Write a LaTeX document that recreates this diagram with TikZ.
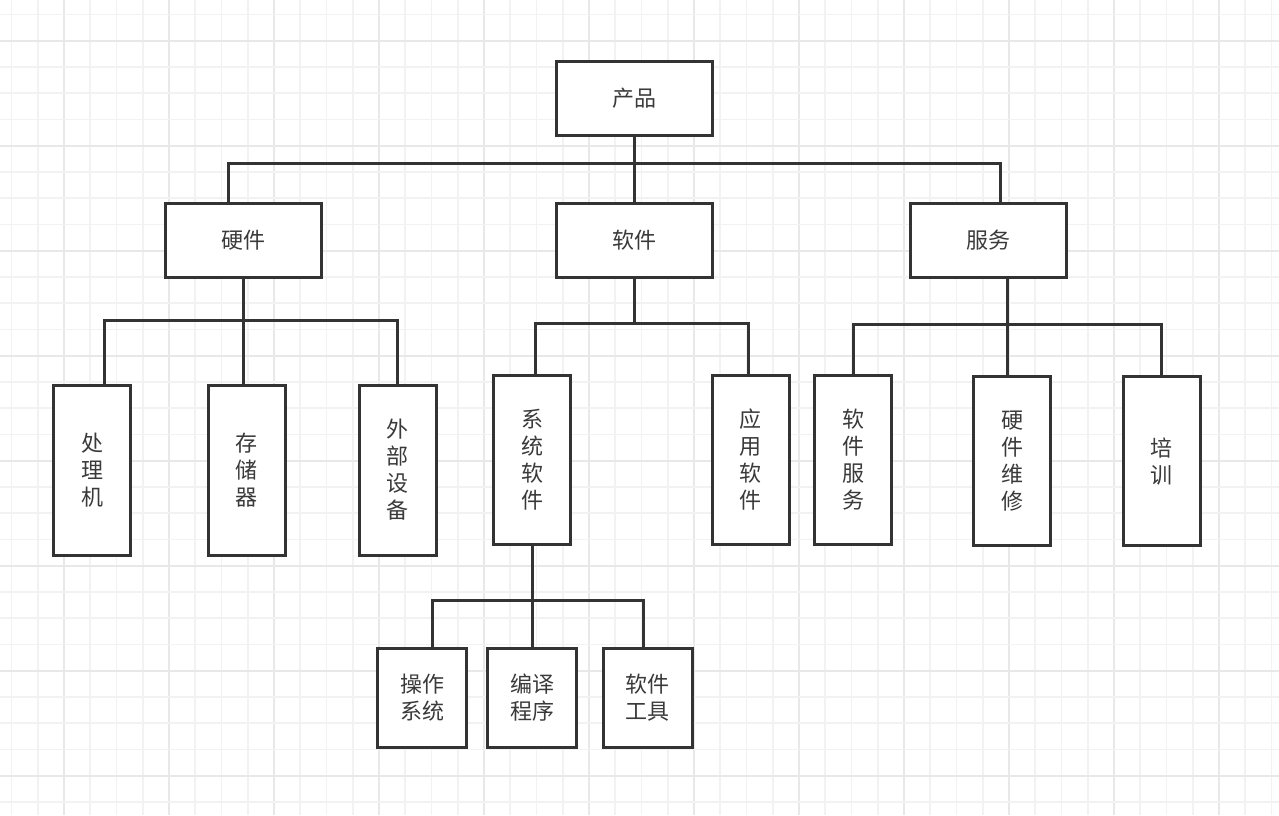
\documentclass[tikz,border=0pt]{standalone}
\usepackage{fontspec}
\setmainfont{Noto Sans CJK SC}
\definecolor{ink}{HTML}{333333}
\definecolor{txt}{HTML}{3A3A3A}
\definecolor{gridfine}{HTML}{F2F2F2}
\definecolor{gridmajor}{HTML}{E8E8E8}
\tikzset{
  box/.style={draw=ink, line width=3pt, fill=white, inner sep=0pt, align=center,
    text=txt, font=\fontsize{22}{27}\selectfont},
  wide/.style={box, minimum width=156pt, minimum height=74pt},
  tall/.style={box, minimum width=77pt, minimum height=170pt},
  small/.style={box, minimum width=89pt, minimum height=99pt},
  link/.style={draw=ink, line width=3pt}
}
\begin{document}
\begin{tikzpicture}[x=1pt,y=-1pt]
\useasboundingbox (0,0) rectangle (1279,815);
\fill[white] (0,0) rectangle (1279,815);
% grid
\foreach \i in {0,...,48}{
  \pgfmathtruncatemacro{\m}{mod(\i,4)}
  \ifnum\m=2
    \draw[gridmajor, line width=1.6pt] ({11.5+26.25*\i},0) -- ({11.5+26.25*\i},815);
  \else
    \draw[gridfine, line width=1.6pt] ({11.5+26.25*\i},0) -- ({11.5+26.25*\i},815);
  \fi
}
\foreach \j in {0,...,30}{
  \pgfmathtruncatemacro{\m}{mod(\j,4)}
  \ifnum\m=1
    \draw[gridmajor, line width=1.6pt] (0,{14.45+26.25*\j}) -- (1279,{14.45+26.25*\j});
  \else
    \draw[gridfine, line width=1.6pt] (0,{14.45+26.25*\j}) -- (1279,{14.45+26.25*\j});
  \fi
}
% nodes
\node[wide] (cp) at (634.25,98.5) {产品};
\node[wide] (hw) at (243.25,240.25) {硬件};
\node[wide] (sw) at (634.25,240.25) {软件};
\node[wide] (fw) at (988.25,240.25) {服务};

\node[tall] (clj) at (92,470) {处\\理\\机};
\node[tall] (ccq) at (246.75,470) {存\\储\\器};
\node[tall] (wbsb) at (397.75,470) {外\\部\\设\\备};

\node[tall, minimum height=169pt] (xtrj) at (532,459.5) {系\\统\\软\\件};
\node[tall, minimum height=169pt] (yyrj) at (750.5,459.5) {应\\用\\软\\件};

\node[tall, minimum height=169pt] (rjfw) at (853,459.5) {软\\件\\服\\务};
\node[tall, minimum height=169pt] (yjwx) at (1012.3,461.3) {硬\\件\\维\\修};
\node[tall, minimum height=169pt] (px) at (1161.7,461.3) {培\\训};

\node[small] (czxt) at (422,697.8) {操作\\系统};
\node[small] (byxx) at (532,697.8) {编译\\程序};
\node[small] (rjgj) at (647.7,697.8) {软件\\工具};

% level 1 connectors
\coordinate (t1L) at (228,163);
\coordinate (t1M) at (634.25,163);
\coordinate (t1R) at (1000,163);
\draw[link] (cp.south) -- (t1M);
\draw[link] (t1L |- hw.north) -- (t1L) -- (t1R) -- (t1R |- fw.north);
\draw[link] (t1M) -- (sw.north);

% hardware children
\coordinate (h2M) at (243.25,320);
\coordinate (h2L) at (104,320);
\coordinate (h2R) at (397,320);
\draw[link] (hw.south) -- (h2M) -- (ccq.north -| h2M);
\draw[link] (h2L |- clj.north) -- (h2L) -- (h2R) -- (h2R |- wbsb.north);

% software children
\coordinate (s2M) at (634.25,323);
\coordinate (s2L) at (535,323);
\coordinate (s2R) at (748,323);
\draw[link] (sw.south) -- (s2M);
\draw[link] (s2L |- xtrj.north) -- (s2L) -- (s2R) -- (s2R |- yyrj.north);

% service children
\coordinate (f2M) at (1007,324);
\coordinate (f2L) at (853,324);
\coordinate (f2R) at (1161,324);
\draw[link] (f2M |- fw.south) -- (f2M) -- (f2M |- yjwx.north);
\draw[link] (rjfw.north) -- (f2L) -- (f2R) -- (f2R |- px.north);

% system software children
\coordinate (x3L) at (432,600);
\coordinate (x3R) at (643,600);
\draw[link] (xtrj.south) -- (byxx.north);
\draw[link] (x3L |- czxt.north) -- (x3L) -- (x3R) -- (x3R |- rjgj.north);
\end{tikzpicture}
\end{document}
